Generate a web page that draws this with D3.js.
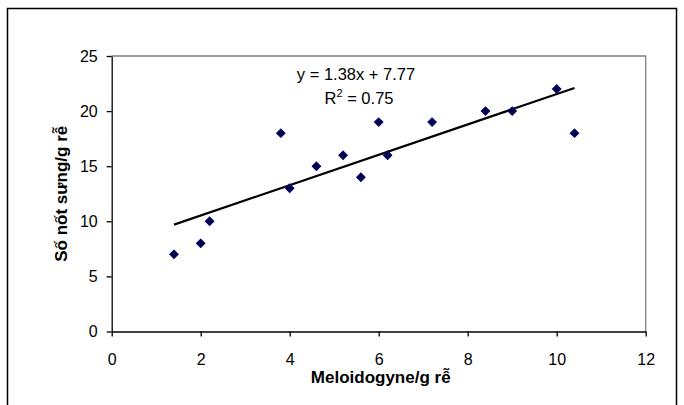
<!DOCTYPE html>
<meta charset="utf-8">

<style type="text/css">
  body {
  	margin: 0;
  	background: white;
  }

  text {
  	font-family: "Liberation Sans", Arial, sans-serif;
  }

  .axis path, .axis line {
  	stroke: black;
  	stroke-width: 1.3;
  }

  .axis text {
  	font-size: 16px;
  	fill: black;
  }

  .frame {
  	fill: none;
  	stroke: black;
  	stroke-width: 1.5;
  }

  .plot-border {
  	fill: none;
  	stroke: #808080;
  	stroke-width: 1.3;
  }

  .trend-path {
  	stroke: black;
  	stroke-width: 2.2;
  	fill: none;
  }

  .dot {
  	fill: #00003a;
  	stroke: #000080;
  	stroke-width: 1;
  }

  .axis-title {
  	font-size: 17px;
  	font-weight: bold;
  }

  .eq-label {
  	font-size: 16.5px;
  }
</style>

<body>
</body>

<script src="https://d3js.org/d3.v7.min.js"></script>

<script>

// data
var meloidogyne = [1.4, 2, 2.2, 3.8, 4, 4.6, 5.2, 5.6, 6, 6.2, 7.2, 8.4, 9, 10, 10.4];
var soNotSung   = [7, 8, 10, 18, 13, 15, 16, 14, 19, 16, 19, 20, 20, 22, 18];

var xTicks = [0, 2, 4, 6, 8, 10, 12];
var yTicks = [0, 5, 10, 15, 20, 25];

var xTitle = "Meloidogyne/g rễ";
var yTitle = "Số nốt sưng/g rễ";
var eqText = "y = 1.38x + 7.77";
var r2Value = "0.75";

var W = 684, H = 405;
var plot = {left: 111.7, right: 645.7, top: 56, bottom: 331.5};

var xscale = d3.scaleLinear()
	.domain([0, 12])
	.range([plot.left, plot.right]);

var yscale = d3.scaleLinear()
	.domain([0, 25])
	.range([plot.bottom, plot.top]);

var svg = d3.select("body").append("svg")
	.attr("width", W)
	.attr("height", H);

svg.append("rect")
	.attr("width", W)
	.attr("height", H)
	.attr("fill", "white");

// outer chart frame, bottom edge runs off the picture
svg.append("rect")
	.attr("class", "frame")
	.attr("x", 7.5)
	.attr("y", 8.5)
	.attr("width", 669)
	.attr("height", 420);

// grey top + right of plot area
svg.append("path")
	.attr("class", "plot-border")
	.attr("d", "M" + plot.left + "," + plot.top + "H" + plot.right + "V" + plot.bottom);

var xaxis = d3.axisBottom(xscale)
	.tickValues(xTicks)
	.tickFormat(d3.format("d"))
	.tickSizeInner(5)
	.tickSizeOuter(0)
	.tickPadding(17);

var yaxis = d3.axisLeft(yscale)
	.tickValues(yTicks)
	.tickFormat(d3.format("d"))
	.tickSizeInner(5)
	.tickSizeOuter(0)
	.tickPadding(9);

svg.append("g")
	.attr("class", "axis")
	.attr("transform", "translate(0," + plot.bottom + ")")
	.call(xaxis);

svg.append("g")
	.attr("class", "axis")
	.attr("transform", "translate(" + plot.left + ",0)")
	.call(yaxis);

// let the css fonts win over d3's defaults
svg.selectAll(".axis").attr("font-family", null).attr("font-size", null);

// least squares trend line
var mx = d3.mean(meloidogyne), my = d3.mean(soNotSung);
var sxy = d3.sum(meloidogyne, function(x, i) { return (x - mx) * (soNotSung[i] - my); });
var sxx = d3.sum(meloidogyne, function(x) { return (x - mx) * (x - mx); });
var slope = sxy / sxx, intercept = my - slope * mx;

var xExt = d3.extent(meloidogyne);
var trend = xExt.map(function(x) { return [x, intercept + slope * x]; });

var lineGenerator = d3.line()
	.x(function(d) { return xscale(d[0]); })
	.y(function(d) { return yscale(d[1]); });

svg.append("path")
	.attr("class", "trend-path")
	.attr("d", lineGenerator(trend));

// diamond markers = rotated squares
var diamond = d3.symbol().type(d3.symbolSquare).size(36);

svg.selectAll(".dot")
	.data(meloidogyne)
	.enter()
	.append("path")
	.attr("class", "dot")
	.attr("d", diamond)
	.attr("transform", function(d, i) {
		return "translate(" + xscale(d) + "," + yscale(soNotSung[i]) + ") rotate(45)";
	});

// equation + R^2
svg.append("text")
	.attr("class", "eq-label")
	.attr("x", 356)
	.attr("y", 80)
	.attr("text-anchor", "middle")
	.text(eqText);

var r2 = svg.append("text")
	.attr("class", "eq-label")
	.attr("x", 359)
	.attr("y", 104)
	.attr("text-anchor", "middle");
r2.append("tspan").text("R");
r2.append("tspan").attr("dy", -7).attr("font-size", "11px").text("2");
r2.append("tspan").attr("dy", 7).text(" = " + r2Value);

// axis titles
svg.append("text")
	.attr("class", "axis-title")
	.attr("x", (plot.left + plot.right) / 2 + 2)
	.attr("y", 383)
	.attr("text-anchor", "middle")
	.text(xTitle);

svg.append("text")
	.attr("class", "axis-title")
	.attr("transform", "translate(67," + ((plot.top + plot.bottom) / 2) + ") rotate(-90)")
	.attr("text-anchor", "middle")
	.text(yTitle);

</script>
